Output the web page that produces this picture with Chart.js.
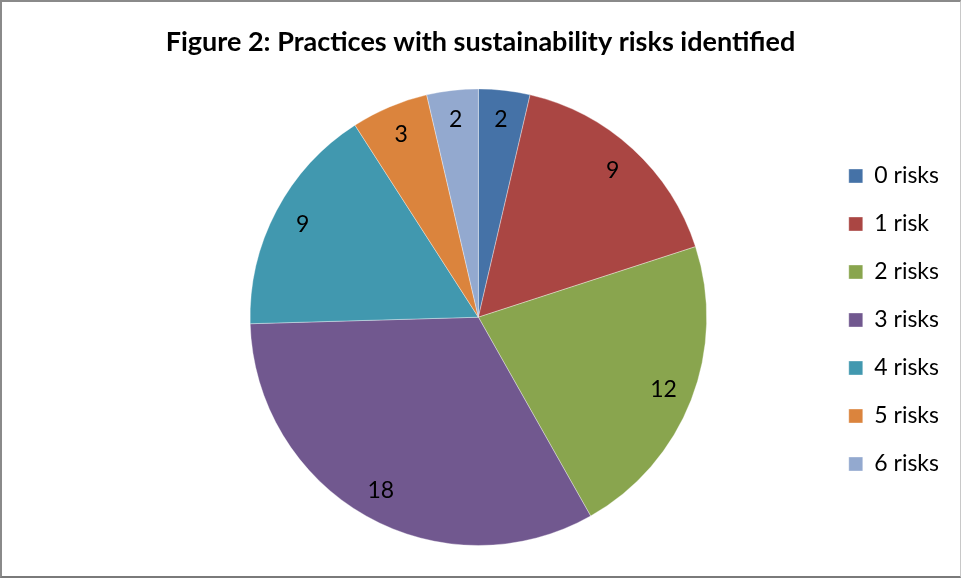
<!DOCTYPE html>
<html>
<head>
<meta charset="utf-8">
<script src="https://cdn.jsdelivr.net/npm/chart.js@4/dist/chart.umd.min.js"></script>
<style>
  html, body { margin: 0; padding: 0; background: #fff; }
  #wrap { position: relative; width: 961px; height: 578px; }
  #frame {
    position: absolute; left: 0; top: 0; width: 961px; height: 578px;
    box-sizing: border-box; pointer-events: none;
    border-left: 2px solid #8a8a8a; border-top: 2px solid #8a8a8a;
    border-right: 1px solid #c8c8c8; border-bottom: 2px solid #7a7a7a;
  }
</style>
</head>
<body>
<div id="wrap">
  <canvas id="chart" width="961" height="578"></canvas>
  <div id="frame"></div>
</div>
<script>
const categories = ['0 risks', '1 risk', '2 risks', '3 risks', '4 risks', '5 risks', '6 risks']
const practices = [2, 9, 12, 18, 9, 3, 2]
const sliceColors = ['#4572A7', '#AA4643', '#89A54E', '#71588F', '#4198AF', '#DB843D', '#93A9CF']

// numbers inside the slices, placed along the mid angle of each arc
const sliceLabels = {
  id: 'sliceLabels',
  afterDatasetsDraw(chart) {
    const ctx = chart.ctx
    const meta = chart.getDatasetMeta(0)
    ctx.save()
    ctx.font = '23px Lato'
    ctx.fillStyle = '#000'
    ctx.textAlign = 'center'
    ctx.textBaseline = 'middle'
    meta.data.forEach((arc, i) => {
      const p = arc.getProps(['x', 'y', 'startAngle', 'endAngle', 'outerRadius'])
      const mid = (p.startAngle + p.endAngle) / 2
      const d = p.outerRadius * 0.87
      ctx.fillText(String(practices[i]), p.x + Math.cos(mid) * d, p.y + Math.sin(mid) * d)
    })
    ctx.restore()
  }
}

// title centred on the whole canvas, legend block moved down a bit
const placeBoxes = {
  id: 'placeBoxes',
  afterLayout(chart) {
    chart.titleBlock.left = 0
    chart.titleBlock.right = chart.width
    chart.titleBlock.width = chart.width
    chart.legend.top += 47
    chart.legend.bottom += 47
  }
}

new Chart(document.getElementById('chart'), {
  type: 'pie',
  data: {
    labels: categories,
    datasets: [{
      data: practices,
      backgroundColor: sliceColors,
      borderColor: 'rgba(255,255,255,0.35)',
      borderWidth: 1,
    }]
  },
  options: {
    responsive: false,
    animation: false,
    layout: { padding: { left: 133, right: 12, top: 0, bottom: 32 } },
    plugins: {
      title: {
        display: true,
        text: 'Figure 2: Practices with sustainability risks identified',
        color: '#000',
        font: { family: 'Lato', size: 27, weight: 'bold' },
        padding: { top: 26, bottom: 30 },
      },
      legend: {
        position: 'right',
        labels: {
          color: '#000',
          font: { family: 'Lato', size: 23 },
          boxWidth: 14,
          boxHeight: 14,
          padding: 25,
        }
      },
      tooltip: { enabled: false },
    }
  },
  plugins: [sliceLabels, placeBoxes]
})
</script>
</body>
</html>
